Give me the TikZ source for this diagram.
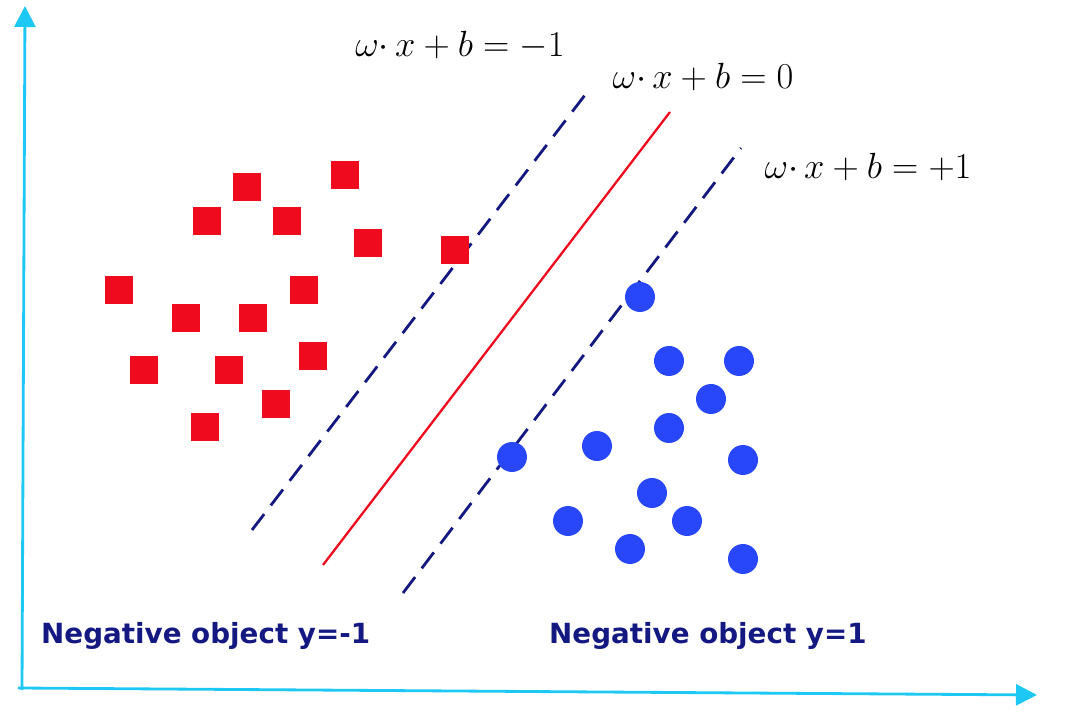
\documentclass[tikz,border=0pt]{standalone}
\usepackage{amsmath, amssymb}
\usepackage{fontspec}
\usepackage{xcolor}
\usepackage{tikz}
\usetikzlibrary{arrows.meta}
\newfontfamily\labelfont{DejaVu Sans}
\definecolor{asse}{RGB}{30,200,245}
\definecolor{rosso}{RGB}{240,10,30}
\definecolor{blu}{RGB}{40,70,250}
\definecolor{notte}{RGB}{20,25,130}

\begin{document}
\begin{tikzpicture}[x=0.02cm, y=-0.02cm,
    quadrato/.style={rectangle, fill=rosso, inner sep=0pt, minimum size=0.56cm},
    pallino/.style={circle, fill=blu, inner sep=0pt, minimum size=0.6cm},
    margine/.style={notte, line width=1.6pt, dash pattern=on 0.4cm off 0.22cm},
    etichetta/.style={font=\fontsize{21}{25}\selectfont},
    classe/.style={notte, font=\labelfont\bfseries\fontsize{15.8}{19}\selectfont, anchor=west}]
    \useasboundingbox (0,0) rectangle (1066,722);

    % Assi coordinati
    \coordinate (o) at (22,690);
    \coordinate (ytip) at (25,6);
    \coordinate (xtip) at (1037,695);
    \draw[asse, line width=1.6pt, -{Triangle[length=0.42cm, width=0.42cm]}] (o) -- (ytip);
    \draw[asse, line width=1.6pt, -{Triangle[length=0.42cm, width=0.42cm]}] (18,688) -- (xtip);

    % Iperpiani
    \coordinate (m1a) at (252,530);  \coordinate (m1b) at (585,95);
    \coordinate (h0a) at (323,565);  \coordinate (h0b) at (670,112);
    \coordinate (m2a) at (403,593);  \coordinate (m2b) at (741,148);
    \draw[margine] (m1a) -- (m1b);
    \draw[rosso, line width=1.3pt] (h0a) -- (h0b);
    \draw[margine] (m2a) -- (m2b);

    % Etichette iperpiani
    \node[etichetta] (lm1) at (460,45) {$\omega{\cdot}\,x+b=-1$};
    \node[etichetta] (lh0) at (703,77) {$\omega{\cdot}\,x+b=0$};
    \node[etichetta] (lm2) at (868,167) {$\omega{\cdot}\,x+b=+1$};

    % Classe y=-1
    \foreach \px/\py [count=\i] in {247/187, 345/175, 207/221, 287/221, 368/243, 455/250,
        119/290, 304/290, 186/318, 253/318, 313/356, 144/370, 229/370, 276/404, 205/427}
        \node[quadrato] (sq\i) at (\px,\py) {};

    % Classe y=1
    \foreach \px/\py [count=\i] in {640/297, 669/361, 739/361, 711/399, 669/428, 512/457,
        597/446, 743/460, 652/493, 568/521, 687/521, 630/549, 743/559}
        \node[pallino] (pt\i) at (\px,\py) {};

    % Didascalie
    \node[classe] (neg) at (35,636) {Negative object y=-1};
    \node[classe] (pos) at (543,636) {Negative object y=1};
\end{tikzpicture}
\end{document}
